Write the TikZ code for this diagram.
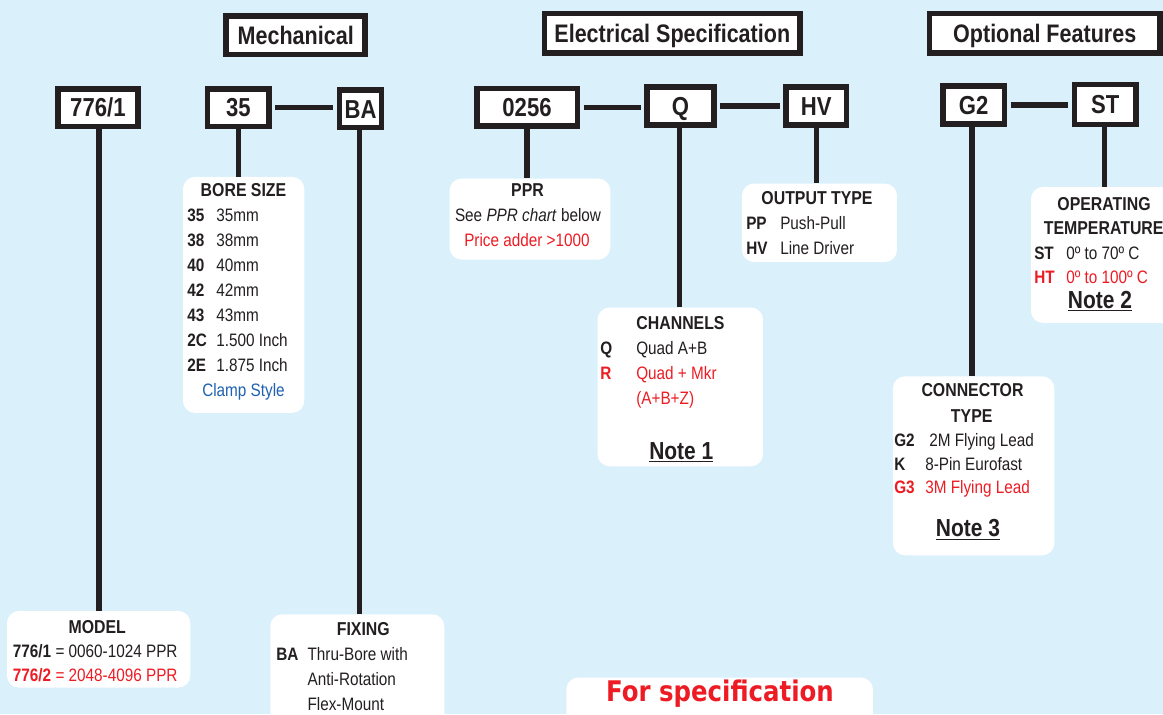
\documentclass[tikz,border=0pt]{standalone}
\usepackage{fontspec}
\setmainfont{Liberation Sans}[FakeStretch=0.85]
\newfontfamily\specfont{DejaVu Sans}[FakeStretch=0.86]
\usetikzlibrary{calc}
\definecolor{bg}{HTML}{DAF0FB}
\definecolor{ink}{HTML}{231F20}
\definecolor{myred}{HTML}{ED1C24}
\definecolor{myblue}{HTML}{1F62B0}
\newdimen\px \px=0.75pt
\newcommand\lab[2]{\makebox[#1\px][l]{\bfseries #2}}
\tikzset{
  x=0.75pt, y=-0.75pt,
  hdr/.style={draw=ink, line width=5.5\px, fill=white, inner sep=0pt, text=ink,
    font=\fontsize{19}{22}\selectfont\bfseries, text height=13.5pt, text depth=0pt},
  codebox/.style={draw=ink, line width=5.5\px, fill=white, inner sep=0pt, text=ink,
    font=\fontsize{19.5}{22}\selectfont\bfseries, text height=14pt, text depth=0pt},
  info/.style={fill=white, rounded corners=9pt, inner sep=0pt, anchor=north west},
  conn/.style={draw=ink, line width=5.5\px},
  ttl/.style={anchor=base, inner sep=0pt, text=ink, font=\fontsize{14}{17}\selectfont\bfseries},
  body/.style={anchor=base west, inner sep=0pt, text=ink, font=\fontsize{13.5}{18.75}\selectfont},
  bodyc/.style={anchor=base, inner sep=0pt, text=ink, font=\fontsize{13.5}{18.75}\selectfont},
  note/.style={anchor=base, inner sep=0pt, text=ink, font=\fontsize{18.5}{22}\selectfont\bfseries},
}
\begin{document}
\begin{tikzpicture}
\useasboundingbox (0,0) rectangle (1163,714);
\clip (0,0) rectangle (1163,714);
\fill[bg] (0,0) rectangle (1163,714);

% headers
\node[hdr, minimum width=139\px, minimum height=38.5\px] (hmech) at (295.7,35) {Mechanical};
\node[hdr, minimum width=255.8\px, minimum height=39.5\px] (helec) at (672.3,33.2) {Electrical Specification};
\node[hdr, minimum width=230.5\px, minimum height=39.2\px] (hopt) at (1044.7,33.3) {Optional Features};

% code boxes
\node[codebox, minimum width=80.2\px, minimum height=37.5\px] (c7761) at (97.9,107.5) {776/1};
\node[codebox, minimum width=61.2\px, minimum height=37.5\px] (c35) at (238.3,107.5) {35};
\node[codebox, minimum width=42.1\px, minimum height=37.2\px] (cBA) at (360.5,108.7) {BA};
\node[codebox, minimum width=100.5\px, minimum height=37.2\px] (c0256) at (527,107.3) {0256};
\node[codebox, minimum width=66.9\px, minimum height=37.9\px] (cQ) at (680.5,106) {Q};
\node[codebox, minimum width=60.5\px, minimum height=37.9\px] (cHV) at (816.3,106) {HV};
\node[codebox, minimum width=61.8\px, minimum height=37.9\px] (cG2) at (973.7,105) {G2};
\node[codebox, minimum width=61.2\px, minimum height=40.1\px] (cST) at (1105.3,104.5) {ST};

% info boxes
\node[info, minimum width=121.3\px, minimum height=235.9\px] (bore) at (182.7,176.7) {};
\node[info, minimum width=160.7\px, minimum height=81\px] (ppr) at (449.3,178.3) {};
\node[info, minimum width=155\px, minimum height=78.4\px] (outp) at (741.7,183.3) {};
\node[info, minimum width=165.4\px, minimum height=158.7\px] (chan) at (597.3,307.3) {};
\node[info, minimum width=161.3\px, minimum height=179\px] (connb) at (892.7,376) {};
\node[info, minimum width=150\px, minimum height=136\px] (oper) at (1030.7,186.7) {};
\node[info, minimum width=183.3\px, minimum height=76.6\px] (model) at (6.7,610.7) {};
\node[info, minimum width=174\px, minimum height=120\px] (fix) at (270,614) {};
\node[info, minimum width=306.7\px, minimum height=60\px] (spec) at (566,677.3) {};

% connectors
\draw[conn, shorten <=3.5\px, shorten >=4\px] (c35.east) -- (c35.east -| cBA.west);
\draw[conn, shorten <=3.5\px, shorten >=3.5\px] (c0256.east) -- (c0256.east -| cQ.west);
\draw[conn, shorten <=3.5\px, shorten >=3.5\px] (cQ.east) -- (cQ.east -| cHV.west);
\draw[conn, shorten <=3.5\px, shorten >=3.5\px] (cG2.east) -- (cG2.east -| cST.west);
\draw[conn] ($(c7761.south)+(1,0)$) -- ($(c7761.south |- model.north)+(1,0)$);
\draw[conn] (c35.south) -- (c35.south |- bore.north);
\draw[conn] ($(cBA.south)+(-1,0)$) -- ($(cBA.south |- fix.north)+(-1,0)$);
\draw[conn] (c0256.south) -- (c0256.south |- ppr.north);
\draw[conn] ($(cQ.south)+(-1,0)$) -- ($(cQ.south |- chan.north)+(-1,0)$);
\draw[conn] (cHV.south) -- (cHV.south |- outp.north);
\draw[conn] ($(cG2.south)+(-1.5,0)$) -- ($(cG2.south |- connb.north)+(-1.5,0)$);
\draw[conn] ($(cST.south)+(-1,0)$) -- ($(cST.south |- oper.north)+(-1,0)$);

% BORE SIZE
\node[ttl] (boret) at (243.5,196.7) {BORE SIZE};
\node[body] (borel) at (187,221.7) {\begin{tabular}[t]{@{}l@{}l@{}}
\lab{29}{35}&35mm\\ \lab{29}{38}&38mm\\ \lab{29}{40}&40mm\\ \lab{29}{42}&42mm\\
\lab{29}{43}&43mm\\ \lab{29}{2C}&1.500 Inch\\ \lab{29}{2E}&1.875 Inch\end{tabular}};
\node[bodyc, text=myblue] (clamp) at (243.5,396.7) {Clamp Style};

% PPR
\node[ttl] (pprt) at (527.5,196.7) {PPR};
\node[bodyc] (ppr1) at (528,221.7) {See \textit{PPR chart} below};
\node[bodyc, text=myred] (ppr2) at (527,246.6) {Price adder >1000};

% OUTPUT TYPE
\node[ttl] (outt) at (817,204) {OUTPUT TYPE};
\node[body] (outl) at (746,229) {\begin{tabular}[t]{@{}l@{}l@{}}
\lab{34}{PP}&Push-Pull\\ \lab{34}{HV}&Line Driver\end{tabular}};

% CHANNELS
\node[ttl] (chant) at (680.5,329.3) {CHANNELS};
\node[body] (chanl) at (600,354.3) {\begin{tabular}[t]{@{}l@{}l@{}}
\lab{36}{Q}&Quad A+B\\ \color{myred}\lab{36}{R}&\color{myred}Quad + Mkr\\ &\color{myred}(A+B+Z)\end{tabular}};
\node[note] (note1) at (681.3,459.3) {\underline{Note 1}};

% CONNECTOR TYPE
\node[ttl] (connt1) at (972.5,396.7) {CONNECTOR};
\node[ttl] (connt2) at (971.7,422.3) {TYPE};
\node[body, font=\fontsize{13.5}{17.5}\selectfont] (connl) at (894,446.7) {\begin{tabular}[t]{@{}l@{}l@{}}
\lab{31}{G2}&\hspace{4\px}2M Flying Lead\\ \lab{31}{K}&8-Pin Eurofast\\ \color{myred}\lab{31}{G3}&\color{myred}3M Flying Lead\end{tabular}};
\node[note] (note3) at (968,536.7) {\underline{Note 3}};

% OPERATING TEMPERATURE
\node[ttl] (opt1) at (1104,210.7) {OPERATING};
\node[ttl] (opt2) at (1103.7,234) {TEMPERATURE};
\node[body, font=\fontsize{13.5}{18.2}\selectfont] (opl) at (1034,259) {\begin{tabular}[t]{@{}l@{}l@{}}
\lab{32}{ST}&0º to 70º C\\ \color{myred}\lab{32}{HT}&\color{myred}0º to 100º C\end{tabular}};
\node[note] (note2) at (1100,308.3) {\underline{Note 2}};

% MODEL
\node[ttl] (modt) at (97.2,633.3) {MODEL};
\node[body, font=\fontsize{13.5}{18.3}\selectfont] (modl) at (12.7,657.3) {\begin{tabular}[t]{@{}l@{}}
\textbf{776/1} = 0060-1024 PPR\\ \color{myred}\textbf{776/2} = 2048-4096 PPR\end{tabular}};

% FIXING
\node[ttl] (fixt) at (363.3,635) {FIXING};
\node[body] (fixl) at (276,660) {\begin{tabular}[t]{@{}l@{}l@{}}
\lab{31.3}{BA}&Thru-Bore with\\ &Anti-Rotation\\ &Flex-Mount\end{tabular}};

% For specification
\node[anchor=base, inner sep=0pt, text=myred, font=\specfont\fontsize{21.3}{25}\selectfont\bfseries] (spect) at (720,701.7) {For specification};
\end{tikzpicture}
\end{document}
